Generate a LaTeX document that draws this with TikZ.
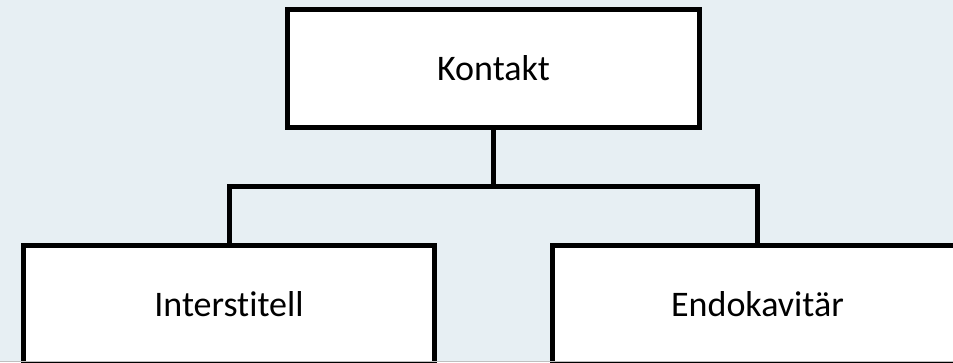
\documentclass[tikz,border=0pt]{standalone}
\usepackage{fontspec}
\setmainfont{Carlito}[Ligatures={NoCommon,NoContextual}]
\definecolor{bg}{RGB}{231,239,243}
\begin{document}
\begin{tikzpicture}[x=1pt,y=-1pt,
  box/.style={draw=black, fill=white, line width=5pt, minimum width=411pt, minimum height=118pt, inner sep=0pt, font=\fontsize{36}{43}\selectfont},
  conn/.style={draw=black, line width=5pt}]
\useasboundingbox (0,0) rectangle (953,362);
\clip (0,0) rectangle (953,362);
\fill[bg] (0,0) rectangle (953,362);
\node[box, minimum width=412pt] (top) at (493.5,68.5) {Kontakt};
\node[box] (left) at (229,304.5) {Interstitell};
\node[box] (right) at (757.5,304.5) {Endokavitär};
\coordinate (mid) at (493.5,186.5);
\draw[conn] (top.south) -- (mid);
\draw[conn] (left.north) |- (mid) -| (right.north);
\draw[black!25, line width=1pt] (0,361.5) -- (953,361.5);
\end{tikzpicture}
\end{document}
